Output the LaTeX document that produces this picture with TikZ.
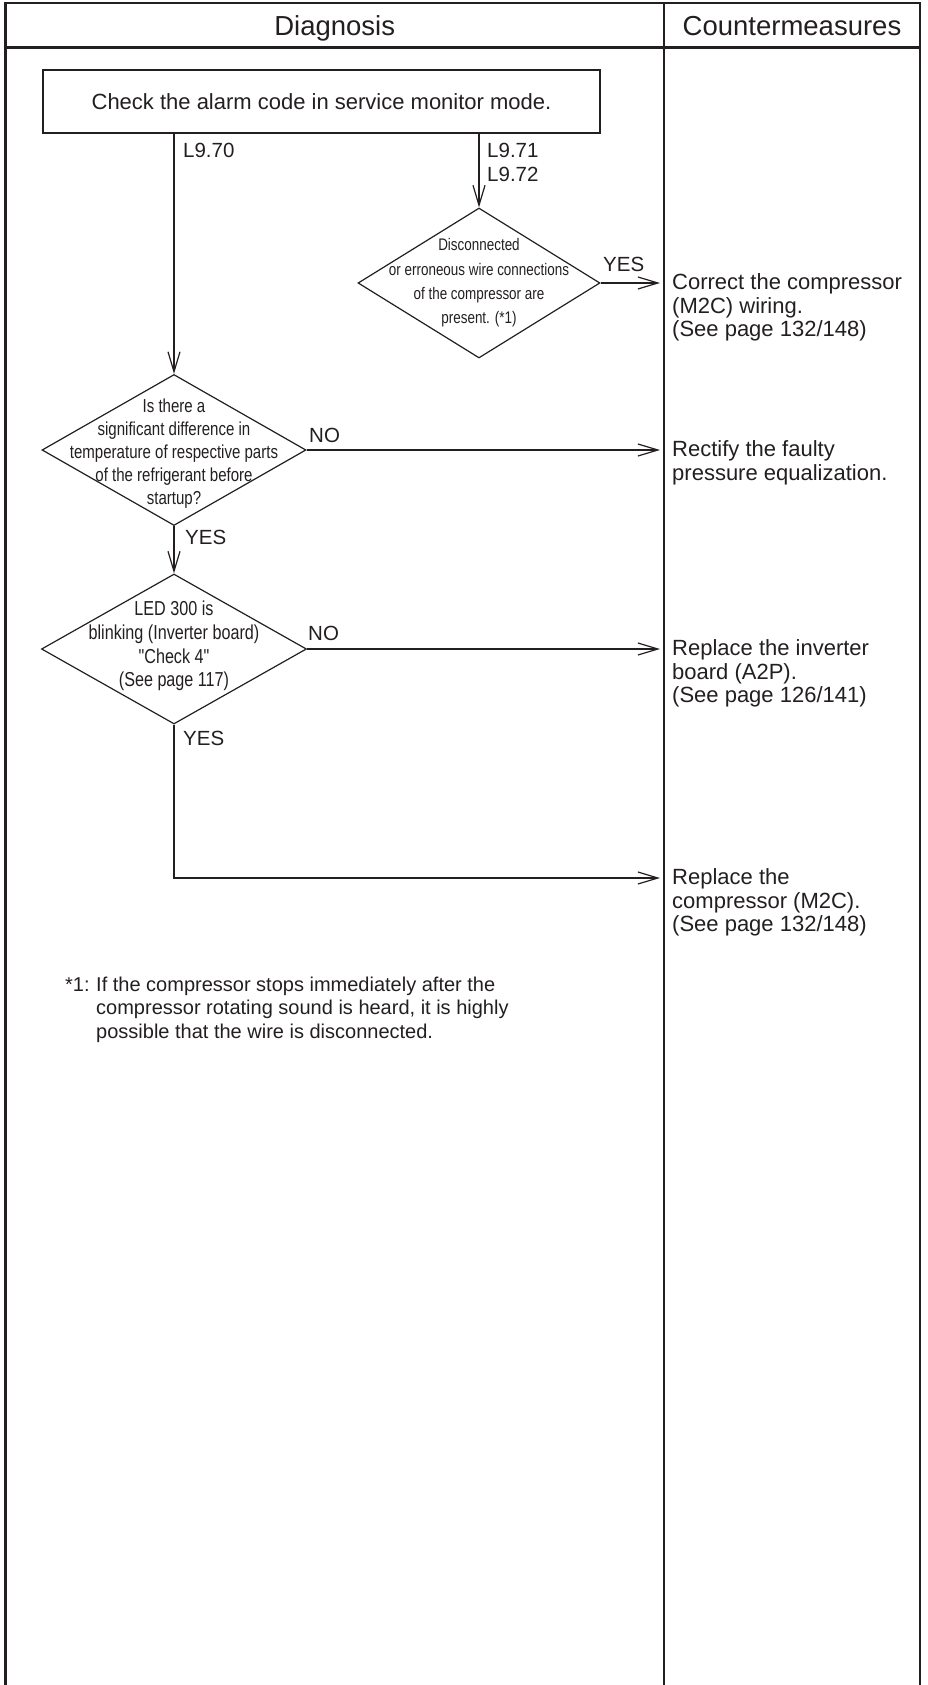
\documentclass[tikz,border=0pt]{standalone}
\usepackage{fontspec}
\setmainfont{Liberation Sans}
\newfontfamily\narrowfont[FakeStretch=0.8]{Liberation Sans}
\usetikzlibrary{arrows.meta, positioning, calc, shapes.geometric}
\definecolor{InkDark}{HTML}{231F20}

\begin{document}
\begin{tikzpicture}[x=1pt, y=-1pt, color=InkDark,
  frame/.style={line width=2.8pt},
  flow/.style={line width=1.2pt, -{Straight Barb[length=20pt, width=12pt]}},
  decision/.style={diamond, draw, line width=1.2pt, inner sep=0pt},
  question/.style={align=center, inner sep=0pt},
  answer/.style={anchor=base west, inner sep=0pt, font=\fontsize{20.5}{24}\selectfont},
  fix/.style={align=left, anchor=north west, inner xsep=12pt, inner ysep=0pt,
    font=\fontsize{22}{23.6}\selectfont},
  note/.style={inner sep=0pt, font=\fontsize{20}{23.6}\selectfont}]
  % --- GEOMETRIC VARIABLES ---
  \def\LeftX{5.5}
  \def\MidX{664}
  \def\RightX{920}
  \def\TipX{660}
  \def\Bottom{1685}

  \useasboundingbox (0,0) rectangle (927,\Bottom);

  % =====================================================================
  % 1. TABLE FRAME
  % =====================================================================
  \draw[frame] (\LeftX,\Bottom) -- (\LeftX,3) -- (\RightX,3) -- (\RightX,\Bottom);
  \draw[frame] (\LeftX,47.5) -- (\RightX,47.5);
  \draw[frame] (\MidX,3) -- (\MidX,\Bottom);

  \node[anchor=base, font=\fontsize{27.5}{30}\selectfont] (hdiag) at (334.75,36) {Diagnosis};
  \node[anchor=base, font=\fontsize{27.5}{30}\selectfont] (hcount) at (792,36) {Countermeasures};

  % =====================================================================
  % 2. DIAGNOSIS FLOW
  % =====================================================================
  \node[draw, line width=1.2pt, minimum width=557pt, minimum height=63pt,
    font=\fontsize{22}{26}\selectfont] (check) at (321.5,101.5)
    {Check the alarm code in service monitor mode.};

  \node[decision, minimum width=242pt, minimum height=150pt] (d1) at (479,283) {};
  \node[question, font=\narrowfont\fontsize{16.8}{24.3}\selectfont] (d1txt) at (d1)
    {Disconnected\\or erroneous wire connections\\of the compressor are\\present. (*1)};

  \node[decision, minimum width=264pt, minimum height=151pt] (d2) at (174,450) {};
  \node[question, font=\narrowfont\fontsize{18.8}{23}\selectfont] (d2txt) at ($(d2)+(0,4)$)
    {Is there a\\significant difference in\\temperature of respective parts\\of the refrigerant before\\startup?};

  \node[decision, minimum width=265pt, minimum height=150pt] (d3) at (174,649) {};
  \node[question, font=\narrowfont\fontsize{20.2}{23.6}\selectfont] (d3txt) at ($(d3)+(0,-3)$)
    {LED 300 is\\blinking (Inverter board)\\"Check 4"\\(See page 117)};

  % Branches out of the alarm code check
  \draw[flow] (check.south -| d2.north) -- (d2.north);
  \draw[flow] (check.south -| d1.north) -- (d1.north);
  \node[answer] (l970) at (183,158) {L9.70};
  \node[answer, anchor=north west, align=left] (l971) at (487,143.3) {L9.71\\L9.72};

  % Ends of the branches, just left of the column line
  \coordinate (in1) at (\TipX,283);
  \coordinate (in2) at (\TipX,450);
  \coordinate (in3) at (\TipX,649);
  \coordinate (in4) at (\TipX,878);

  \draw[flow] (d1.east) -- (in1);
  \draw[flow] (d2.east) -- (in2);
  \draw[flow] (d2.south) -- (d3.north);
  \draw[flow] (d3.east) -- (in3);
  \draw[flow] (d3.south) |- (in4);

  \node[answer] (yes1) at (603,272) {YES};
  \node[answer] (no2) at (309,442) {NO};
  \node[answer] (yes2) at (185,544) {YES};
  \node[answer] (no3) at (308,640) {NO};
  \node[answer] (yes3) at (183,745) {YES};

  % Footnote
  \node[note, anchor=base west] (fnmark) at (65,991) {*1:};
  \node[note, anchor=north west, align=left] (fntext) at (96,976.4)
    {If the compressor stops immediately after the\\
     compressor rotating sound is heard, it is highly\\
     possible that the wire is disconnected.};

  % =====================================================================
  % 3. COUNTERMEASURES
  % =====================================================================
  \node[fix] (fix1) at ($(in1)+(0,-9.5)$)
    {Correct the compressor\\(M2C) wiring.\\(See page 132/148)};
  \node[fix] (fix2) at ($(in2)+(0,-9.5)$)
    {Rectify the faulty\\pressure equalization.};
  \node[fix] (fix3) at ($(in3)+(0,-9.5)$)
    {Replace the inverter\\board (A2P).\\(See page 126/141)};
  \node[fix] (fix4) at ($(in4)+(0,-9.5)$)
    {Replace the\\compressor (M2C).\\(See page 132/148)};

\end{tikzpicture}
\end{document}
